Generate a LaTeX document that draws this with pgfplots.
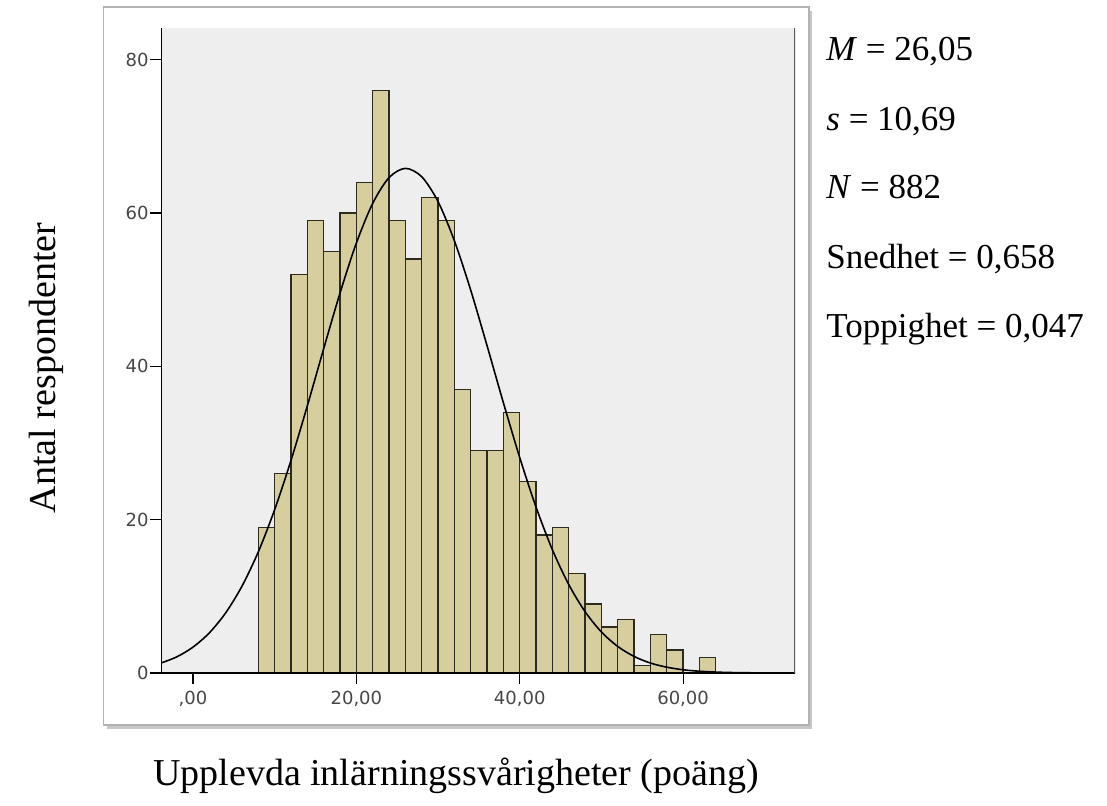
\documentclass[border=0pt]{standalone}
\usepackage{fontspec}
\setmainfont{Liberation Serif}
\newfontfamily\tickfont{DejaVu Sans}
\usepackage{pgfplots}
\pgfplotsset{compat=1.18}
\definecolor{barfill}{RGB}{214,206,158}
\definecolor{bardraw}{RGB}{45,43,30}
\definecolor{plotbg}{RGB}{238,238,238}
\definecolor{ticktext}{RGB}{70,70,70}
\begin{document}
\begin{tikzpicture}[x=1pt,y=1pt]
\path[use as bounding box] (0,0) rectangle (553.5,402.5);
% chart frame with shadow
\fill[black!22] (53.5,38) rectangle (406,397);
\draw[black!30, fill=white, line width=0.6pt] (51.8,40) rectangle (404.5,399);
\begin{axis}[
  at={(80.5pt,66pt)}, anchor=south west,
  scale only axis, width=317pt, height=322.35pt,
  xmin=-3.92, xmax=73.7, ymin=0, ymax=84.1,
  axis line style={draw=none},
  axis background/.style={fill=plotbg},
  xtick pos=bottom, ytick pos=left,
  xtick={0,20,40,60}, xticklabels={{,00},{20,00},{40,00},{60,00}},
  ytick={0,20,40,60,80}, yticklabels={0,20,40,60,80},
  tick align=outside, major tick length=5.5pt,
  tick style={black, line width=0.6pt},
  tick label style={font=\tickfont\fontsize{9}{10}\selectfont, text=ticktext},
  yticklabel style={inner sep=0.5pt},
  /pgf/number format/assume math mode=true,
]
\addplot[ybar interval, fill=barfill, draw=bardraw, line width=0.65pt] coordinates {
(8,19) (10,26) (12,52) (14,59) (16,55) (18,60) (20,64) (22,76) (24,59) (26,54)
(28,62) (30,59) (32,37) (34,29) (36,29) (38,34) (40,25) (42,18) (44,19) (46,13)
(48,9) (50,6) (52,7) (54,1) (56,5) (58,3) (60,0) (62,2) (64,2)};
\addplot[black, line width=0.8pt, smooth] coordinates {
(-4,1.27) (-2,2.10) (0,3.38) (2,5.24) (4,7.85) (6,11.34) (8,15.82) (10,21.33)
(12,27.75) (14,34.87) (16,42.32) (18,49.58) (20,56.09) (22,61.27) (24,64.63)
(26,65.83) (28,64.74) (30,61.49) (32,56.38) (34,49.93) (36,42.69) (38,35.25)
(40,28.10) (42,21.63) (44,16.07) (46,11.54) (48,8.00) (50,5.35) (52,3.46)
(54,2.16) (56,1.30) (58,0.76) (60,0.42) (62,0.23) (64,0.12) (66,0.06)
(68,0.03) (70,0.01) (72,0.005) (74,0.002)};
\draw[black, line width=0.75pt] (rel axis cs:0,1) -- (rel axis cs:0,0) -- (rel axis cs:1,0);
\draw[black!65, line width=1pt] (rel axis cs:1,0) -- (rel axis cs:1,1);
\end{axis}
% axis titles
\node[rotate=90, anchor=base, font=\fontsize{19}{21}\selectfont] at (28,218.5) {Antal respondenter};
\node[anchor=base, font=\fontsize{19}{21}\selectfont] at (228,10) {Upplevda inlärningssvårigheter (poäng)};
% statistics
\begin{scope}[every node/.style={anchor=base west, inner sep=0pt, font=\fontsize{17.5}{19}\selectfont}]
\node at (413,372.15) {\textit{M} = 26,05};
\node at (413,337.5) {\textit{s} = 10,69};
\node at (413,303.5) {\textit{N} = 882};
\node at (413,268.5) {Snedhet = 0,658};
\node at (413,234) {Toppighet = 0,047};
\end{scope}
\end{tikzpicture}
\end{document}
